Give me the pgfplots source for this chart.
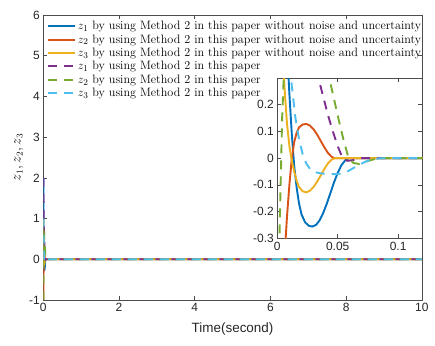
\documentclass[border=0pt]{standalone}
\usepackage{fontspec}
\setsansfont{Liberation Sans}
\usepackage{pgfplots}
\usepackage{pgfplotstable}
\pgfplotsset{compat=1.18}

\definecolor{mblue}{rgb}{0,0.447,0.741}
\definecolor{morange}{rgb}{0.85,0.325,0.098}
\definecolor{myellow}{rgb}{0.929,0.694,0.125}
\definecolor{mpurple}{rgb}{0.494,0.184,0.556}
\definecolor{mgreen}{rgb}{0.466,0.674,0.188}
\definecolor{mcyan}{rgb}{0.301,0.745,0.933}
\definecolor{axgray}{gray}{0.3}

% z1 without noise
\pgfplotstableread{
t v
0 2.0
0.002 1.45
0.004 1.0
0.006 0.66
0.008 0.42
0.010 0.24
0.012 0.09
0.014 -0.03
0.016 -0.11
0.018 -0.17
0.020 -0.21
0.023 -0.24
0.026 -0.253
0.029 -0.256
0.032 -0.25
0.035 -0.233
0.038 -0.205
0.041 -0.17
0.044 -0.13
0.047 -0.09
0.050 -0.055
0.053 -0.027
0.056 -0.009
0.059 0
0.12 0
10 0
}\zA
% z2 without noise
\pgfplotstableread{
t v
0 -1
0.002 -0.75
0.004 -0.54
0.006 -0.37
0.008 -0.22
0.010 -0.10
0.012 0.0
0.014 0.06
0.016 0.095
0.018 0.115
0.021 0.126
0.024 0.128
0.027 0.122
0.030 0.108
0.033 0.088
0.036 0.064
0.039 0.040
0.042 0.019
0.045 0.005
0.047 0
0.12 0
10 0
}\zB
% z3 without noise
\pgfplotstableread{
t v
0 1
0.002 0.72
0.004 0.46
0.006 0.26
0.008 0.13
0.010 0.045
0.012 -0.01
0.014 -0.05
0.016 -0.085
0.018 -0.108
0.021 -0.124
0.024 -0.128
0.027 -0.122
0.030 -0.108
0.033 -0.088
0.036 -0.064
0.039 -0.040
0.042 -0.019
0.045 -0.005
0.048 0
0.12 0
10 0
}\zC
% z1 with noise
\pgfplotstableread{
t v
0 2
0.005 1.55
0.010 1.17
0.015 0.88
0.020 0.66
0.025 0.50
0.030 0.37
0.034 0.30
0.038 0.23
0.042 0.16
0.046 0.10
0.050 0.045
0.054 0.0
0.058 -0.01
0.062 -0.008
0.066 -0.003
0.070 0
0.12 0
10 0
}\zD
% z2 with noise
\pgfplotstableread{
t v
0 -1
0.002 -0.25
0.004 0.15
0.006 0.38
0.009 0.55
0.012 0.62
0.015 0.64
0.019 0.62
0.024 0.56
0.029 0.48
0.034 0.40
0.039 0.34
0.043 0.30
0.047 0.22
0.051 0.14
0.055 0.065
0.059 0.0
0.063 -0.018
0.068 -0.022
0.074 -0.012
0.080 -0.004
0.086 0
0.12 0
10 0
}\zE
% z3 with noise
\pgfplotstableread{
t v
0 1
0.003 0.78
0.006 0.58
0.009 0.41
0.012 0.27
0.015 0.15
0.018 0.07
0.021 0.015
0.024 -0.02
0.027 -0.04
0.031 -0.052
0.036 -0.057
0.042 -0.059
0.048 -0.06
0.053 -0.058
0.058 -0.05
0.063 -0.037
0.068 -0.024
0.073 -0.013
0.078 -0.005
0.084 -0.001
0.09 0
0.12 0
10 0
}\zF

\pgfplotsset{
  mstyle/.style={
    scale only axis,
    axis line style={axgray, line width=0.6bp},
    tick style={axgray, line width=0.6bp},
    tick align=inside,
    major tick length=4bp,
    ticklabel style={font=\fontsize{12}{12}\sffamily, text=black!85},
    /pgf/number format/assume math mode=true,
    scaled ticks=false,
  },
  solidln/.style={line width=1.9bp},
  dashln/.style={line width=1.9bp, dash pattern=on 9bp off 7bp},
}

\begin{document}
\begin{tikzpicture}
\begin{axis}[
  mstyle,
  at={(0bp,0bp)}, anchor=south west,
  width=378.5bp, height=285bp,
  xmin=0, xmax=10, ymin=-1, ymax=6,
  xtick={0,2,...,10}, ytick={-1,0,...,6},
  xlabel={Time(second)},
  xlabel style={font=\fontsize{13.5}{14}\sffamily, text=black!85, yshift=-4bp},
  ylabel={$z_1, z_2, z_3$},
  ylabel style={font=\fontsize{13.5}{14}\selectfont, yshift=-1bp},
  legend cell align=left,
  legend image code/.code={\draw[#1] (0bp,0bp) -- (27bp,0bp);},
  legend style={at={(rel axis cs:0,1)}, anchor=north west,
    draw=none, fill=none, xshift=0.5bp, yshift=-2bp,
    font=\fontsize{12.2}{13}\selectfont, row sep=-0.5bp},
]
\addplot[solidln, mblue] table {\zA};
\addlegendentry{$z_1$ by using Method 2 in this paper without noise and uncertainty}
\addplot[solidln, morange] table {\zB};
\addlegendentry{$z_2$ by using Method 2 in this paper without noise and uncertainty}
\addplot[solidln, myellow] table {\zC};
\addlegendentry{$z_3$ by using Method 2 in this paper without noise and uncertainty}
\addplot[dashln, mpurple] table {\zD};
\addlegendentry{$z_1$ by using Method 2 in this paper}
\addplot[dashln, mgreen] table {\zE};
\addlegendentry{$z_2$ by using Method 2 in this paper}
\addplot[dashln, mcyan] table {\zF};
\addlegendentry{$z_3$ by using Method 2 in this paper}
\end{axis}

\begin{axis}[
  mstyle,
  at={(234bp,61.7bp)}, anchor=south west,
  width=145bp, height=160.3bp,
  xmin=0, xmax=0.12, ymin=-0.3, ymax=0.3,
  xtick={0,0.05,0.1}, xticklabels={0,0.05,0.1},
  ytick={-0.3,-0.2,...,0.2}, yticklabels={-0.3,-0.2,-0.1,0,0.1,0.2},
  axis background/.style={fill=white},
]
\addplot[solidln, mblue] table {\zA};
\addplot[solidln, morange] table {\zB};
\addplot[solidln, myellow] table {\zC};
\addplot[dashln, mpurple] table {\zD};
\addplot[dashln, mgreen] table {\zE};
\addplot[dashln, mcyan] table {\zF};
\end{axis}
\pgfresetboundingbox
\useasboundingbox (-43.3bp,-46bp) rectangle (391.7bp,300bp);
\end{tikzpicture}
\end{document}
